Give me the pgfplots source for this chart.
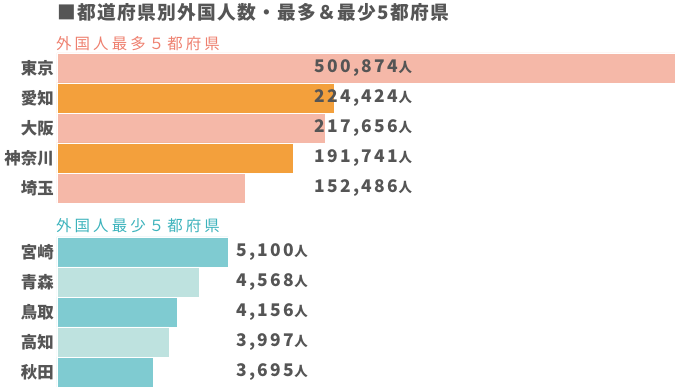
\documentclass[border=0pt]{standalone}
\usepackage{fontspec}
\usepackage{pgfplots}
\pgfplotsset{compat=1.18}
\setmainfont{Noto Sans CJK JP}
\newfontfamily\jpnum{Noto Sans CJK JP}[LetterSpace=14]
\newfontfamily\jpsub{Noto Sans CJK JP}[LetterSpace=20]
\newfontfamily\jptitle{Noto Sans CJK JP}[LetterSpace=7]
\definecolor{salmon}{HTML}{F5B8A8}
\definecolor{orng}{HTML}{F3A03C}
\definecolor{teal1}{HTML}{7FCBD1}
\definecolor{teal2}{HTML}{BEE2DF}
\definecolor{tgray}{HTML}{555555}
\definecolor{subred}{HTML}{EE806F}
\definecolor{subteal}{HTML}{3DB3BC}
\newcommand\lbl[1]{{\jpnum\bfseries\fontsize{17.5}{17.5}\selectfont #1}{\bfseries\fontsize{13.5}{13.5}\selectfont 人}}
\begin{document}
\begin{tikzpicture}[x=1bp,y=1bp]
\path (0,0) rectangle (675,387);
\node[anchor=west, inner sep=0pt, text=tgray, font=\jptitle\bfseries\fontsize{18.8}{18.8}\selectfont] at (57,375) {■都道府県別外国人数・最多＆最少5都府県};
\node[anchor=west, inner sep=0pt, text=subred, font=\jpsub\fontsize{15.5}{15.5}\selectfont] at (56,343) {外国人最多５都府県};
\node[anchor=west, inner sep=0pt, text=subteal, font=\jpsub\fontsize{15.5}{15.5}\selectfont] at (56,161) {外国人最少５都府県};
\begin{axis}[at={(57bp,184bp)}, anchor=south west, scale only axis,
  width=618bp, height=150bp, xmin=0, xmax=500874, ymin=0.5, ymax=5.5,
  y dir=reverse, xbar, bar width=30bp, bar shift=0pt,
  axis line style={draw=none}, major tick length=0pt, xtick=\empty,
  ytick={1,2,3,4,5}, yticklabels={東京,愛知,大阪,神奈川,埼玉},
  yticklabel style={inner sep=0pt, xshift=-3bp, text=tgray, font=\bfseries\fontsize{16.5}{16.5}\selectfont}]
\addplot[fill=salmon, draw=white, line width=0.6pt] coordinates {(500874,1) (217656,3) (152486,5)};
\addplot[fill=orng, draw=white, line width=0.6pt] coordinates {(224424,2) (191741,4)};
\node[anchor=west, inner sep=0pt, text=tgray] at (axis cs:208270,1) {\lbl{500,874}};
\node[anchor=west, inner sep=0pt, text=tgray] at (axis cs:208270,2) {\lbl{224,424}};
\node[anchor=west, inner sep=0pt, text=tgray] at (axis cs:208270,3) {\lbl{217,656}};
\node[anchor=west, inner sep=0pt, text=tgray] at (axis cs:208270,4) {\lbl{191,741}};
\node[anchor=west, inner sep=0pt, text=tgray] at (axis cs:208270,5) {\lbl{152,486}};
\end{axis}
\begin{axis}[at={(57bp,0bp)}, anchor=south west, scale only axis,
  width=618bp, height=150bp, xmin=1893, xmax=13477, ymin=0.5, ymax=5.5,
  y dir=reverse, xbar, bar width=30bp, bar shift=0pt,
  axis line style={draw=none}, major tick length=0pt, xtick=\empty,
  ytick={1,2,3,4,5}, yticklabels={宮崎,青森,鳥取,高知,秋田},
  yticklabel style={inner sep=0pt, xshift=-3bp, text=tgray, font=\bfseries\fontsize{16.5}{16.5}\selectfont}]
\addplot[fill=teal1, draw=white, line width=0.6pt] coordinates {(5100,1) (4156,3) (3695,5)};
\addplot[fill=teal2, draw=white, line width=0.6pt] coordinates {(4568,2) (3997,4)};
\node[anchor=west, inner sep=0pt, text=tgray] at (axis cs:5248,1) {\lbl{5,100}};
\node[anchor=west, inner sep=0pt, text=tgray] at (axis cs:5248,2) {\lbl{4,568}};
\node[anchor=west, inner sep=0pt, text=tgray] at (axis cs:5248,3) {\lbl{4,156}};
\node[anchor=west, inner sep=0pt, text=tgray] at (axis cs:5248,4) {\lbl{3,997}};
\node[anchor=west, inner sep=0pt, text=tgray] at (axis cs:5248,5) {\lbl{3,695}};
\end{axis}
\end{tikzpicture}
\end{document}
